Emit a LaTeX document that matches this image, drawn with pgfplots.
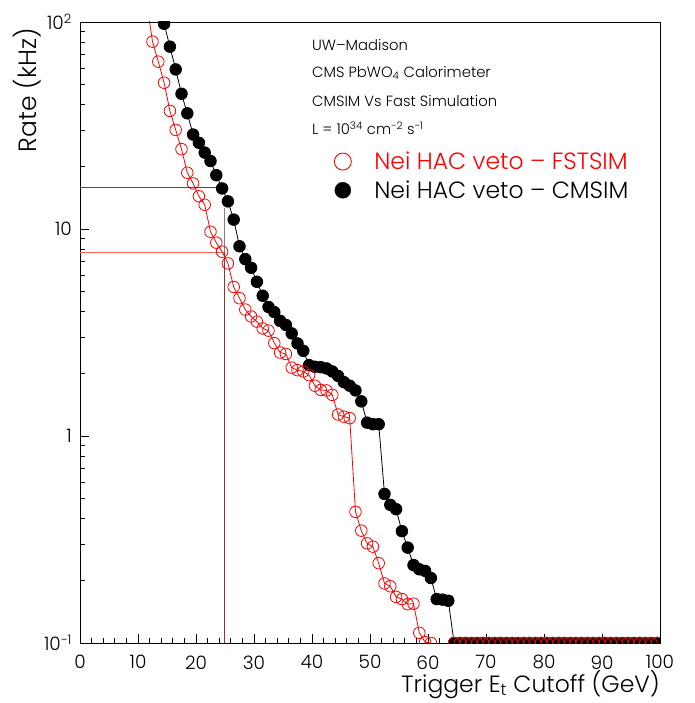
\documentclass[border=0pt]{standalone}
\usepackage{fontspec}
\setmainfont{Poppins}[UprightFont=* Light]
\usepackage{pgfplots}
\pgfplotsset{compat=1.18}
\usepackage{pgfplotstable}

\pgfplotstableread{
x y
13.5 130
14.5 98
15.5 76
16.5 59
17.5 45
18.5 36.2
19.5 28.6
20.5 26.1
21.5 23.4
22.5 21.3
23.5 18.2
24.5 15.7
25.5 13.6
26.5 11.1
27.5 8.25
28.5 7.15
29.5 6.5
30.5 5.56
31.5 4.76
32.5 4.2
33.5 3.97
34.5 3.6
35.5 3.44
36.5 3.13
37.5 2.8
38.5 2.58
39.5 2.2
40.5 2.16
41.5 2.15
42.5 2.12
43.5 2.05
44.5 1.95
45.5 1.82
46.5 1.75
47.5 1.66
48.5 1.47
49.5 1.16
50.5 1.14
51.5 1.14
52.5 0.525
53.5 0.465
54.5 0.443
55.5 0.347
56.5 0.289
57.5 0.238
58.5 0.227
59.5 0.223
60.5 0.206
61.5 0.163
62.5 0.162
63.5 0.160
64.5 0.1
65.5 0.1
66.5 0.1
67.5 0.1
68.5 0.1
69.5 0.1
70.5 0.1
71.5 0.1
72.5 0.1
73.5 0.1
74.5 0.1
75.5 0.1
76.5 0.1
77.5 0.1
78.5 0.1
79.5 0.1
80.5 0.1
81.5 0.1
82.5 0.1
83.5 0.1
84.5 0.1
85.5 0.1
86.5 0.1
87.5 0.1
88.5 0.1
89.5 0.1
90.5 0.1
91.5 0.1
92.5 0.1
93.5 0.1
94.5 0.1
95.5 0.1
96.5 0.1
97.5 0.1
98.5 0.1
99.5 0.1
}\cmsimdata

\pgfplotstableread{
x y
11.5 125
12.5 80.4
13.5 64.3
14.5 50.9
15.5 37.2
16.5 30.1
17.5 24.3
18.5 18.7
19.5 16.6
20.5 14.4
21.5 13.1
22.5 9.7
23.5 8.59
24.5 7.77
25.5 6.82
26.5 5.25
27.5 4.63
28.5 4.08
29.5 3.78
30.5 3.57
31.5 3.31
32.5 3.23
33.5 2.81
34.5 2.53
35.5 2.49
36.5 2.14
37.5 2.08
38.5 2.05
39.5 1.97
40.5 1.75
41.5 1.67
42.5 1.66
43.5 1.58
44.5 1.27
45.5 1.24
46.5 1.22
47.5 0.43
48.5 0.349
49.5 0.303
50.5 0.292
51.5 0.243
52.5 0.194
53.5 0.188
54.5 0.167
55.5 0.163
56.5 0.154
57.5 0.155
58.5 0.112
59.5 0.101
60.5 0.1
}\fstsimdata

\pgfplotstableread{
x y
64.5 0.1
65.5 0.1
66.5 0.1
67.5 0.1
68.5 0.1
69.5 0.1
70.5 0.1
71.5 0.1
72.5 0.1
73.5 0.1
74.5 0.1
75.5 0.1
76.5 0.1
77.5 0.1
78.5 0.1
79.5 0.1
80.5 0.1
81.5 0.1
82.5 0.1
83.5 0.1
84.5 0.1
85.5 0.1
86.5 0.1
87.5 0.1
88.5 0.1
89.5 0.1
90.5 0.1
91.5 0.1
92.5 0.1
93.5 0.1
94.5 0.1
95.5 0.1
96.5 0.1
97.5 0.1
98.5 0.1
99.5 0.1
}\fstsimzero

\definecolor{cutbrown}{RGB}{135,55,50}
\definecolor{hred}{RGB}{255,95,95}

\begin{document}
\begin{tikzpicture}
\useasboundingbox (0pt,0pt) rectangle (694pt,703pt);
\begin{axis}[
  at={(80pt,60pt)}, anchor=south west,
  scale only axis, width=580pt, height=621pt,
  xmin=0, xmax=100, ymin=0.1, ymax=100,
  ymode=log,
  axis line style={line width=0.9pt},
  xtick={0,10,...,100},
  minor xtick={2,4,...,98},
  ytick={0.1,1,10,100},
  yticklabels={10\textsuperscript{−1},1\hspace{14pt},10\hspace{10pt},10\textsuperscript{2}},
  minor ytick={0.2,0.3,0.4,0.5,0.6,0.7,0.8,0.9,2,3,4,5,6,7,8,9,20,30,40,50,60,70,80,90},
  xtick pos=bottom, ytick pos=left,
  tick align=inside,
  major tick length=9pt, minor tick length=5pt,
  tick style={line width=0.8pt, black},
  /pgf/number format/assume math mode=true,
  ticklabel style={font=\fontsize{18.5pt}{20pt}\selectfont},
  xticklabel style={yshift=-9pt},
  yticklabel style={anchor=east, inner sep=0pt, xshift=-8pt},
  xlabel={Trigger E\textsubscript{t} Cutoff (GeV)},
  xlabel style={at={(rel axis cs:1,0)}, anchor=north east, yshift=-27pt, inner sep=0pt, font=\fontsize{23.5pt}{26pt}\selectfont},
  ylabel={Rate (kHz)},
  ylabel style={at={(rel axis cs:-0.0914,0.990)}, anchor=east, inner sep=0pt, font=\fontsize{25pt}{27pt}\selectfont},
  clip marker paths=true,
  legend style={draw=none, fill=none, at={(rel axis cs:0.433,0.799)}, anchor=north west,
    font=\fontsize{23.5pt}{26pt}\selectfont, row sep=3.5pt, column sep=20pt,
    nodes={inner sep=3pt}},
  legend cell align=left,
]
% threshold lines
\addplot[hred, line width=1pt, forget plot] coordinates {(0,7.74) (24.9,7.74)};
\addplot[black!70, line width=1pt, forget plot] coordinates {(0,15.8) (24.3,15.8)};
\addplot[black!50, line width=1pt, forget plot] coordinates {(24.9,7.74) (24.9,12.6)};
\addplot[cutbrown, line width=1pt, forget plot] coordinates {(24.9,0.1) (24.9,7.74)};
% data
\addplot[black, line width=0.8pt, mark=*, mark size=5.8pt, forget plot] table {\cmsimdata};
\addplot[red, line width=0.8pt, mark=o, mark size=5.8pt, mark options={line width=0.8pt}, forget plot] table {\fstsimdata};
\addplot[red, only marks, mark=o, mark size=5.8pt, mark options={line width=0.8pt}, forget plot] table {\fstsimzero};
% legend
\addlegendimage{only marks, mark=o, red, mark size=8.5pt, mark options={line width=0.9pt}}
\addlegendentry{\textcolor{red}{Nei HAC veto – FSTSIM}}
\addlegendimage{only marks, mark=*, black, mark size=8pt}
\addlegendentry{Nei HAC veto – CMSIM}
% annotation text
\node[anchor=west, inner sep=0pt, font=\fontsize{14.8pt}{17pt}\selectfont] at (rel axis cs:0.4,0.963) {UW–Madison};
\node[anchor=west, inner sep=0pt, font=\fontsize{14.8pt}{17pt}\selectfont] at (rel axis cs:0.4,0.918) {CMS PbWO\textsubscript{4} Calorimeter};
\node[anchor=west, inner sep=0pt, font=\fontsize{14.8pt}{17pt}\selectfont] at (rel axis cs:0.4,0.873) {CMSIM Vs Fast Simulation};
\node[anchor=west, inner sep=0pt, font=\fontsize{14.8pt}{17pt}\selectfont] at (rel axis cs:0.4,0.829) {L = 10\textsuperscript{34} cm\textsuperscript{−2} s\textsuperscript{−1}};
\end{axis}
\end{tikzpicture}
\end{document}
